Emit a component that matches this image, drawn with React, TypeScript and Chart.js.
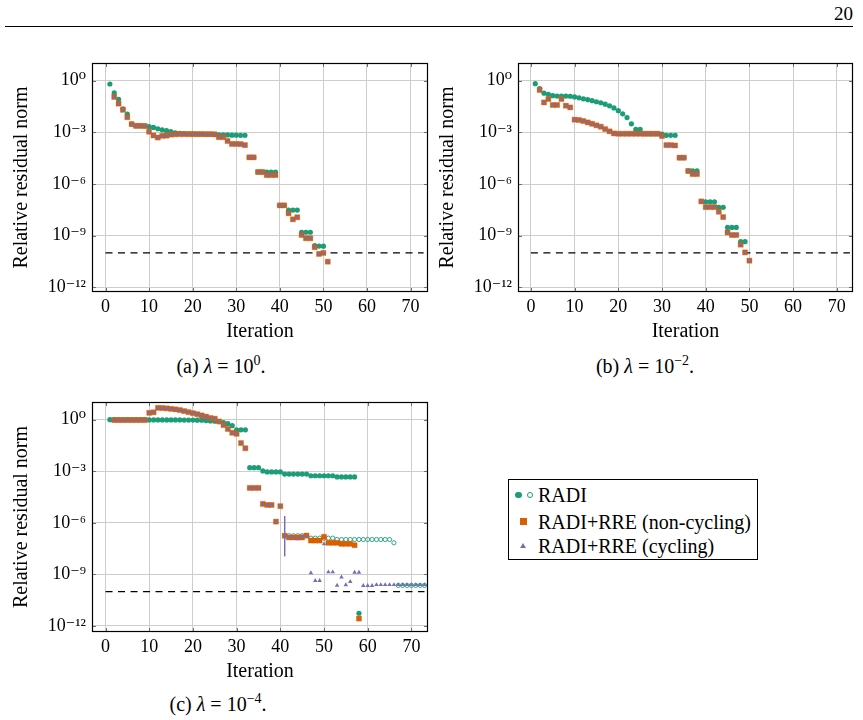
import React, { useEffect, useRef } from "react";
import { Chart, registerables } from "chart.js";

Chart.register(...registerables);

const SERIF = "'Liberation Serif', 'Times New Roman', 'DejaVu Serif', serif";
const GREEN = "#1b9e77";
const ORANGE = "#d95f02";
const PURPLE = "#7570b3";
const GRID = "#cdcdcd";

// ---- axes ----
const X_TICKS = [0, 10, 20, 30, 40, 50, 60, 70];
const Y_TICK_EXPONENTS = [-12, -9, -6, -3, 0];
const Y_TICK_LABELS = ["10⁻¹²", "10⁻⁹", "10⁻⁶", "10⁻³", "10⁰"];
const TOLERANCE = 1e-10;
const TOL_ITER_RANGE = [0, 73];

// ---- data: log10 of the relative residual norm, per iteration ----
// (a) lambda = 10^0
const radiA_start = 1;
const radiA = [
  -0.19, -0.71, -1.08, -1.63, -1.94, -2.52, -2.62, -2.62, -2.62, -2.67,
  -2.71, -2.79, -2.85, -2.90, -2.96, -3.02, -3.05, -3.07, -3.08, -3.09,
  -3.10, -3.10, -3.11, -3.11, -3.12, -3.14, -3.15, -3.15, -3.16, -3.16,
  -3.17, -3.17, -4.45, -4.45, -5.30, -5.30, -5.31, -5.31, -5.31, -7.24,
  -7.24, -7.51, -7.51, -7.51, -8.80, -8.80, -8.80, -9.58, -9.60, -9.61,
];
const rreA_start = 2;
const rreA = [
  -0.94, -1.33, -1.69, -2.12, -2.52, -2.62, -2.62, -2.63, -2.96,
  -3.18, -3.30, -3.20, -3.19, -3.13, -3.11, -3.10, -3.10, -3.10, -3.10,
  -3.10, -3.10, -3.10, -3.10, -3.11, -3.28, -3.28, -3.50, -3.67, -3.67,
  -3.68, -3.74, -4.45, -4.45, -5.30, -5.30, -5.48, -5.48, -5.48, -7.24,
  -7.24, -7.70, -8.05, -7.93, -8.96, -9.15, -9.15, -9.67, -10.06, -10.0,
  -10.51,
];
const rreCycA_start = 2;
const rreCycA = rreA;

// (b) lambda = 10^-2
const radiB_start = 1;
const radiB = [
  -0.17, -0.45, -0.72, -0.79, -0.87, -0.89, -0.89, -0.89, -0.90, -0.94,
  -0.99, -1.05, -1.10, -1.16, -1.22, -1.28, -1.36, -1.46, -1.58, -1.74,
  -1.92, -2.14, -2.50, -2.83, -2.83, -3.08, -3.08, -3.08, -3.08, -3.10,
  -3.17, -3.17, -3.17, -4.47, -4.47, -5.24, -5.24, -5.24, -7.01, -7.03,
  -7.03, -7.03, -7.35, -7.35, -8.52, -8.52, -8.52, -9.35, -9.35,
];
const rreB_start = 2;
const rreB = [
  -0.54, -1.26, -1.06, -1.41, -1.41, -1.06, -1.45, -1.55, -2.26,
  -2.28, -2.34, -2.42, -2.50, -2.59, -2.67, -2.81, -2.94, -3.06, -3.08,
  -3.08, -3.08, -3.08, -3.08, -3.08, -3.08, -3.08, -3.08, -3.08, -3.21,
  -3.74, -3.74, -3.76, -4.47, -4.47, -5.24, -5.42, -5.42, -7.01, -7.34,
  -7.34, -7.34, -7.61, -7.92, -8.81, -8.96, -8.96, -9.52, -9.97, -10.45,
];
const rreCycB_start = 2;
const rreCycB = rreB;

// (c) lambda = 10^-4
const radiC_start = 1;
const radiC = [
  0.0, 0.0, 0.0, 0.0, 0.0, 0.0, 0.0, 0.0, 0.0, -0.01,
  -0.01, -0.01, -0.01, -0.01, -0.01, -0.01, -0.01, -0.02, -0.02, -0.02,
  -0.03, -0.03, -0.05, -0.07, -0.09, -0.12, -0.17, -0.23, -0.35, -0.59,
  -0.59, -0.59, -2.79, -2.79, -2.79, -2.98, -3.04, -3.04, -3.04, -3.04,
  -3.16, -3.16, -3.16, -3.16, -3.16, -3.16, -3.26, -3.26, -3.26, -3.26,
  -3.26, -3.26, -3.33, -3.33, -3.33, -3.33, -3.33, -11.26,
];
const radiOpenC_start = 41;
const radiOpenC = [
  -6.75, -6.75, -6.75, -6.75, -6.75, -6.75, -6.89, -6.89, -6.89, -6.89,
  -6.89, -6.89, -6.97, -6.97, -6.97, -6.97, -6.97, -6.97, -6.97, -6.97,
  -6.97, -6.97, -6.97, -6.97, -6.97, -7.16, -9.64, -9.64, -9.64, -9.64,
  -9.64, -9.64, -9.64,
];
const rreC_start = 2;
const rreC = [
  -0.02, -0.02, -0.02, -0.02, -0.02, -0.02, -0.02, -0.02, 0.40,
  0.43, 0.69, 0.68, 0.66, 0.63, 0.60, 0.56, 0.50, 0.44, 0.38,
  0.32, 0.25, 0.18, 0.10, 0.06, -0.10, -0.31, -0.54, -0.76, -0.82,
  -1.36, -1.66, -3.97, -3.97, -3.97, -4.90, -4.96, -4.96, -5.93, -5.03,
  -6.75, -6.85, -6.85, -6.85, -6.85, -6.74, -7.03, -7.03, -7.03, -6.81,
  -7.16, -7.16, -7.16, -7.22, -7.22, -7.22, -7.30, -11.57,
];
const rreCycC_start = 2;
const rreCycC = [
  -0.02, -0.02, -0.02, -0.02, -0.02, -0.02, -0.02, -0.02, 0.40,
  0.43, 0.69, 0.68, 0.66, 0.63, 0.60, 0.56, 0.50, 0.44, 0.38,
  0.32, 0.25, 0.18, 0.10, 0.06, -0.10, -0.31, -0.54, -0.76, -0.82,
  -1.36, -1.66, -3.97, -3.97, -3.97, -4.90, -4.96, -4.96, -5.93, -5.03,
  -6.76, -6.85, -6.85, -6.94, -6.80, -6.80, -8.91, -9.36, -9.36, -7.23,
  -8.86, -8.86, -9.64, -9.16, -9.61, -9.42, -8.88, -8.88, -9.65, -9.65,
  -9.65, -9.60, -9.60, -9.60, -9.60, -9.60, -9.60, -9.60, -9.60, -9.60,
  -9.60, -9.60, -9.60,
];
// vertical segment drawn at iteration 41 in (c)
const cycSegmentC_iter = 41;
const cycSegmentC = [-5.61, -7.94];

// ---- helpers ----
const toPoints = (start: number, logs: number[]) =>
  logs.map((e, i) => ({ x: start + i, y: Math.pow(10, e) }));

const radiStyle = {
  pointStyle: "circle", pointRadius: 2.6, backgroundColor: GREEN, borderColor: GREEN,
  borderWidth: 0, showLine: false, order: 3,
};
const radiOpenStyle = {
  pointStyle: "circle", pointRadius: 2.1, backgroundColor: "rgba(255,255,255,0)",
  borderColor: GREEN, borderWidth: 0.9, showLine: false, order: 3,
};
const rreStyle = {
  pointStyle: "rect", pointRadius: 3.6, backgroundColor: ORANGE,
  borderColor: "rgba(217,95,2,0.35)", borderWidth: 1, showLine: false, order: 2,
};
const cycStyle = {
  pointStyle: "triangle", pointRadius: 2.6, backgroundColor: PURPLE, borderColor: PURPLE,
  borderWidth: 0, showLine: false, order: 1,
};
const tolLine = () => ({
  label: "tolerance",
  data: TOL_ITER_RANGE.map((x) => ({ x, y: TOLERANCE })),
  showLine: true, borderColor: "#000", borderWidth: 1.4, borderDash: [7, 5.5],
  pointRadius: 0, order: 10, fill: false,
});

const datasetsA = [
  tolLine(),
  { label: "RADI", data: toPoints(radiA_start, radiA), ...radiStyle },
  { label: "RADI+RRE (non-cycling)", data: toPoints(rreA_start, rreA), ...rreStyle },
  { label: "RADI+RRE (cycling)", data: toPoints(rreCycA_start, rreCycA), ...cycStyle },
];
const datasetsB = [
  tolLine(),
  { label: "RADI", data: toPoints(radiB_start, radiB), ...radiStyle },
  { label: "RADI+RRE (non-cycling)", data: toPoints(rreB_start, rreB), ...rreStyle },
  { label: "RADI+RRE (cycling)", data: toPoints(rreCycB_start, rreCycB), ...cycStyle },
];
const datasetsC = [
  tolLine(),
  { label: "RADI", data: toPoints(radiC_start, radiC), ...radiStyle },
  { label: "RADI (open)", data: toPoints(radiOpenC_start, radiOpenC), ...radiOpenStyle },
  { label: "RADI+RRE (non-cycling)", data: toPoints(rreC_start, rreC), ...rreStyle },
  { label: "RADI+RRE (cycling)", data: toPoints(rreCycC_start, rreCycC), ...cycStyle },
  {
    label: "cycling segment",
    data: cycSegmentC.map((e) => ({ x: cycSegmentC_iter, y: Math.pow(10, e) })),
    showLine: true, borderColor: PURPLE, borderWidth: 1, pointRadius: 0, order: 0, fill: false,
  },
];

const framePlugin = {
  id: "pgfFrame",
  afterDatasetsDraw(chart: any) {
    const { ctx, chartArea: a, scales } = chart;
    ctx.save();
    ctx.strokeStyle = "#6f6f6f";
    ctx.lineWidth = 1;
    ctx.beginPath();
    for (const v of X_TICKS) {
      const p = Math.round(scales.x.getPixelForValue(v)) + 0.5;
      ctx.moveTo(p, a.top); ctx.lineTo(p, a.top + 4);
      ctx.moveTo(p, a.bottom); ctx.lineTo(p, a.bottom - 4);
    }
    for (const e of Y_TICK_EXPONENTS) {
      const p = Math.round(scales.y.getPixelForValue(Math.pow(10, e))) + 0.5;
      ctx.moveTo(a.left, p); ctx.lineTo(a.left + 4, p);
      ctx.moveTo(a.right, p); ctx.lineTo(a.right - 4, p);
    }
    ctx.stroke();
    ctx.strokeStyle = "#000";
    ctx.lineWidth = 1.2;
    ctx.strokeRect(Math.round(a.left) + 0.5, Math.round(a.top) + 0.5,
      Math.round(a.right - a.left) - 1, Math.round(a.bottom - a.top) - 1);
    ctx.restore();
  },
};

type Area = { l: number; t: number; r: number; b: number };
const PAD_L = 92, PAD_T = 18, PAD_R = 8, PAD_B = 56;

function Panel({ area, xRange, yRange, datasets }: {
  area: Area; xRange: number[]; yRange: number[]; datasets: any[];
}) {
  const ref = useRef<HTMLCanvasElement | null>(null);
  const w = area.r - area.l + PAD_L + PAD_R;
  const h = area.b - area.t + PAD_T + PAD_B;
  useEffect(() => {
    const canvas = ref.current;
    if (!canvas) return;
    const font = { family: SERIF, size: 18 };
    const titleFont = { family: SERIF, size: 20 };
    const chart = new Chart(canvas, {
      type: "scatter",
      data: { datasets },
      options: {
        animation: false,
        responsive: false,
        devicePixelRatio: 1,
        events: [],
        layout: { padding: { left: 0, top: PAD_T, right: PAD_R, bottom: 0 } },
        plugins: { legend: { display: false }, tooltip: { enabled: false } },
        scales: {
          x: {
            type: "linear", min: xRange[0], max: xRange[1],
            afterBuildTicks: (s: any) => { s.ticks = X_TICKS.map((v) => ({ value: v })); },
            afterFit: (s: any) => { s.height = PAD_B; },
            ticks: { font, color: "#000", padding: 4, maxRotation: 0, autoSkip: false,
              callback: (v: any) => String(v) },
            grid: { color: GRID, lineWidth: 1, drawTicks: false },
            border: { display: false },
            title: { display: true, text: "Iteration", font: titleFont, color: "#000",
              padding: { top: 0, bottom: 4 } },
          },
          y: {
            type: "logarithmic", min: Math.pow(10, yRange[0]), max: Math.pow(10, yRange[1]),
            afterBuildTicks: (s: any) => {
              s.ticks = Y_TICK_EXPONENTS.map((e) => ({ value: Math.pow(10, e) }));
            },
            afterFit: (s: any) => { s.width = PAD_L; },
            ticks: { font, color: "#000", padding: 6, autoSkip: false,
              callback: (v: any) => {
                const i = Y_TICK_EXPONENTS.indexOf(Math.round(Math.log10(Number(v))));
                return i >= 0 ? Y_TICK_LABELS[i] : "";
              } },
            grid: { color: GRID, lineWidth: 1, drawTicks: false },
            border: { display: false },
            title: { display: true, text: "Relative residual norm", font: titleFont, color: "#000",
              padding: { top: 9.5, bottom: 0 } },
          },
        },
      } as any,
      plugins: [framePlugin],
    });
    return () => chart.destroy();
  }, []);
  return (
    <canvas ref={ref} width={w} height={h}
      style={{ position: "absolute", left: area.l - PAD_L, top: area.t - PAD_T, width: w, height: h }} />
  );
}

function Caption({ cx, cy, tag, exp }: { cx: number; cy: number; tag: string; exp: string }) {
  return (
    <div style={{ position: "absolute", left: cx - 150, width: 300, top: cy - 12, height: 24,
      lineHeight: "24px", textAlign: "center", fontSize: 20, fontFamily: SERIF, whiteSpace: "nowrap" }}>
      ({tag}) <i>λ</i> = 10<span style={{ fontSize: 14, position: "relative", top: -8 }}>{exp}</span>.
    </div>
  );
}

function Legend() {
  const txt = (top: number, text: string) => (
    <div style={{ position: "absolute", left: 538, top: top - 12, height: 24, lineHeight: "24px",
      fontSize: 20, fontFamily: SERIF, whiteSpace: "nowrap" }}>{text}</div>
  );
  return (
    <>
      <div style={{ position: "absolute", left: 508, top: 479, width: 250, height: 81,
        border: "1px solid #000", boxSizing: "border-box", background: "#fff" }} />
      <div style={{ position: "absolute", left: 515, top: 491.75, width: 6.5, height: 6.5,
        borderRadius: "50%", background: GREEN }} />
      <div style={{ position: "absolute", left: 526.75, top: 491.75, width: 6.5, height: 6.5,
        borderRadius: "50%", border: `1px solid ${GREEN}`, boxSizing: "border-box" }} />
      {txt(495, "RADI")}
      <div style={{ position: "absolute", left: 520, top: 518.4, width: 6.7, height: 6.7,
        background: ORANGE }} />
      {txt(521.7, "RADI+RRE (non-cycling)")}
      <div style={{ position: "absolute", left: 520.3, top: 543.4, width: 0, height: 0,
        borderLeft: "3px solid transparent", borderRight: "3px solid transparent",
        borderBottom: `5.2px solid ${PURPLE}` }} />
      {txt(546, "RADI+RRE (cycling)")}
    </>
  );
}

export default function App() {
  return (
    <div style={{ position: "absolute", left: 0, top: 0, width: 863, height: 720,
      background: "#fff", fontFamily: SERIF, color: "#000", overflow: "hidden" }}>
      <div style={{ position: "absolute", right: 10, top: 4, fontSize: 19, lineHeight: "20px" }}>20</div>
      <div style={{ position: "absolute", left: 5, top: 26, width: 848, height: 1.3, background: "#000" }} />
      <Panel area={{ l: 92, t: 63, r: 428, b: 292 }} xRange={[-3.1, 74]} yRange={[-12.27, 1.03]} datasets={datasetsA} />
      <Panel area={{ l: 518, t: 63, r: 853, b: 292 }} xRange={[-2.95, 73.7]} yRange={[-12.27, 1.03]} datasets={datasetsB} />
      <Panel area={{ l: 92, t: 402, r: 428, b: 632 }} xRange={[-3.1, 73.8]} yRange={[-12.35, 1.03]} datasets={datasetsC} />
      <Caption cx={221} cy={366} tag="a" exp="0" />
      <Caption cx={645} cy={366} tag="b" exp="−2" />
      <Caption cx={218} cy={704} tag="c" exp="−4" />
      <Legend />
    </div>
  );
}
